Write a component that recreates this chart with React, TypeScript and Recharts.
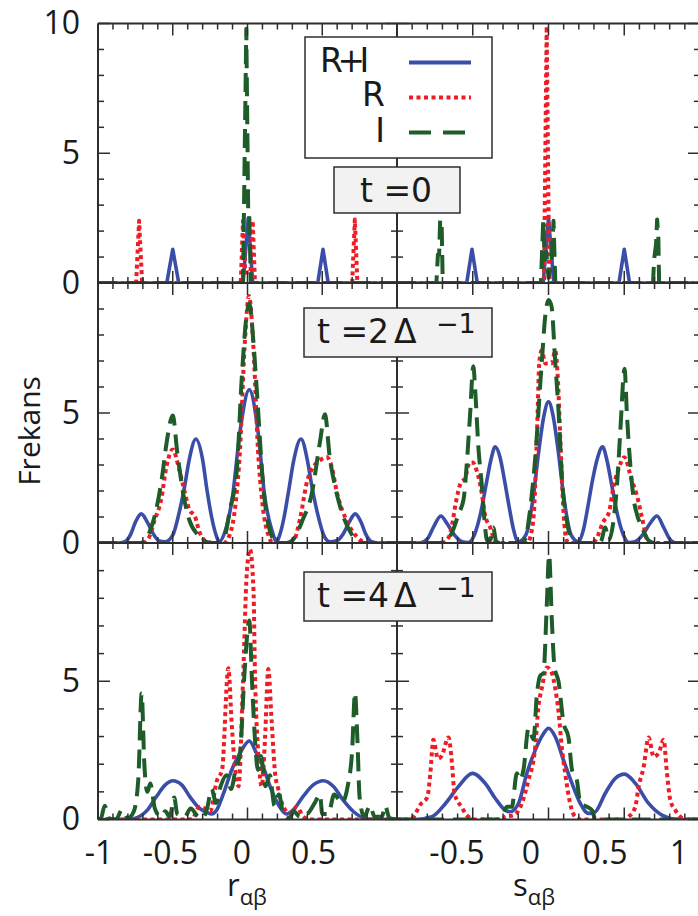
import React from 'react';
import { LineChart, Line, XAxis, YAxis } from 'recharts';

type Pt = [number, number];

// ---------- axis ticks & labels ----------
const X_TICKS = [-1, -0.9, -0.8, -0.7, -0.6, -0.5, -0.4, -0.3, -0.2, -0.1, 0, 0.1, 0.2, 0.3, 0.4, 0.5, 0.6, 0.7, 0.8, 0.9, 1];
const Y_TICKS = [0, 1, 2, 3, 4, 5, 6, 7, 8, 9, 10];
const X_LABELS_R = [-1, -0.5, 0, 0.5];
const X_LABELS_S = [-0.5, 0, 0.5, 1];
const Y_LABELS_TOP = [0, 5, 10];
const Y_LABELS = [0, 5];

// ---------- t = 0 ----------
const r0_RI: Pt[] = [[-1, 0], [-0.54, 0], [-0.5, 1.3], [-0.46, 0], [-0.03, 0], [0.005, 2.5], [0.035, 0], [0.47, 0], [0.505, 1.3], [0.54, 0], [1, 0]];
const r0_R: Pt[] = [[-1, 0], [-0.745, 0], [-0.725, 2.4], [-0.705, 0], [-0.045, 0], [-0.03, 2.4], [-0.015, 0.4], [0.02, 0.4], [0.035, 2.4], [0.05, 0], [0.7, 0], [0.718, 2.45], [0.735, 0], [1, 0]];
const r0_I: Pt[] = [[-1, 0], [-0.03, 0], [-0.008, 9.8], [0.005, 2.6], [0.012, 2.6], [0.022, 0], [1, 0]];

const s0_RI: Pt[] = [[-1, 0], [-0.54, 0], [-0.505, 1.3], [-0.47, 0], [-0.035, 0], [0, 2.5], [0.035, 0], [0.465, 0], [0.5, 1.3], [0.535, 0], [1, 0]];
const s0_R: Pt[] = [[-1, 0], [-0.03, 0], [-0.012, 9.9], [0.005, 0], [1, 0]];
const s0_I: Pt[] = [[-1, 0], [-0.74, 0], [-0.73, 1.1], [-0.722, 1.1], [-0.715, 2.45], [-0.705, 2.2], [-0.698, 0], [-0.05, 0], [-0.035, 2.4], [-0.025, 0.9], [-0.015, 1.2], [0, 0.2], [0.02, 0.8], [0.033, 2.4], [0.045, 0], [0.69, 0], [0.697, 0.9], [0.71, 1.5], [0.717, 2.45], [0.725, 1.8], [0.73, 0], [1, 0]];

// ---------- t = 2 / Delta ----------
const r2_RI: Pt[] = [[-1, 0], [-0.86, 0], [-0.82, 0.05], [-0.78, 0.35], [-0.75, 0.8], [-0.71, 1.12], [-0.67, 0.8], [-0.63, 0.35], [-0.59, 0.08], [-0.55, 0.05], [-0.5, 0.3], [-0.46, 1.1], [-0.42, 2.2], [-0.39, 3.2], [-0.345, 4.0], [-0.3, 3.2], [-0.27, 2.0], [-0.24, 1.0], [-0.21, 0.3], [-0.19, 0.05], [-0.15, 0.45], [-0.1, 1.8], [-0.05, 4.3], [0.012, 5.9], [0.07, 4.3], [0.115, 1.8], [0.165, 0.45], [0.195, 0.05], [0.215, 0.3], [0.245, 1.0], [0.275, 2.0], [0.31, 3.2], [0.358, 4.0], [0.4, 3.2], [0.43, 2.2], [0.47, 1.1], [0.51, 0.3], [0.55, 0.05], [0.6, 0.1], [0.64, 0.35], [0.68, 0.8], [0.72, 1.12], [0.76, 0.8], [0.79, 0.35], [0.83, 0.05], [0.87, 0], [1, 0]];
const r2_R: Pt[] = [[-1, 0], [-0.7, 0], [-0.66, 0.2], [-0.62, 0.9], [-0.58, 1.6], [-0.54, 3.0], [-0.5, 3.6], [-0.46, 2.9], [-0.43, 2.2], [-0.39, 1.3], [-0.35, 1.0], [-0.32, 0.4], [-0.27, 0.05], [-0.22, 0], [-0.16, 0], [-0.12, 0.3], [-0.08, 1.5], [-0.05, 3.6], [-0.02, 7.5], [0.01, 9.5], [0.04, 7.5], [0.07, 3.6], [0.1, 1.5], [0.14, 0.3], [0.17, 0], [0.26, 0], [0.31, 0.1], [0.35, 0.9], [0.4, 2.4], [0.45, 3.0], [0.49, 3.2], [0.53, 3.3], [0.56, 3.0], [0.6, 1.9], [0.66, 0.9], [0.73, 0.25], [0.8, 0], [1, 0]];
const r2_I: Pt[] = [[-1, 0], [-0.72, 0], [-0.69, 0.05], [-0.65, 0.5], [-0.61, 1.3], [-0.57, 2.6], [-0.54, 3.9], [-0.5, 4.9], [-0.47, 3.5], [-0.43, 1.9], [-0.39, 0.9], [-0.33, 0.3], [-0.28, 0.05], [-0.24, 0], [-0.19, 0], [-0.15, 0.3], [-0.12, 1.2], [-0.07, 2.9], [-0.04, 6.2], [-0.005, 8.8], [0.012, 9.2], [0.04, 7.7], [0.062, 5.9], [0.105, 2.2], [0.16, 0.3], [0.2, 0], [0.26, 0], [0.3, 0.1], [0.37, 0.9], [0.43, 1.9], [0.485, 3.9], [0.518, 4.95], [0.55, 3.3], [0.585, 2.2], [0.63, 1.2], [0.69, 0.4], [0.75, 0], [1, 0]];

const s2_RI: Pt[] = [[-1, 0], [-0.85, 0], [-0.8, 0.15], [-0.76, 0.6], [-0.71, 1.04], [-0.67, 0.75], [-0.62, 0.3], [-0.57, 0.05], [-0.53, 0.02], [-0.49, 0.3], [-0.45, 1.1], [-0.41, 2.3], [-0.38, 3.2], [-0.352, 3.7], [-0.32, 3.3], [-0.29, 2.4], [-0.26, 1.4], [-0.23, 0.5], [-0.2, 0.05], [-0.15, 0.3], [-0.1, 1.8], [-0.066, 3.45], [-0.03, 4.9], [0, 5.43], [0.03, 4.9], [0.066, 3.45], [0.1, 1.8], [0.15, 0.3], [0.198, 0.05], [0.23, 0.5], [0.26, 1.4], [0.29, 2.4], [0.325, 3.3], [0.357, 3.7], [0.385, 3.2], [0.415, 2.3], [0.455, 1.1], [0.495, 0.3], [0.53, 0.02], [0.57, 0.05], [0.62, 0.3], [0.67, 0.75], [0.716, 1.04], [0.76, 0.6], [0.8, 0.15], [0.84, 0], [1, 0]];
const s2_R: Pt[] = [[-1, 0], [-0.7, 0], [-0.66, 0.2], [-0.64, 0.6], [-0.61, 1.6], [-0.58, 2.3], [-0.55, 2.5], [-0.52, 3.1], [-0.5, 3.1], [-0.475, 2.8], [-0.44, 1.9], [-0.42, 1.1], [-0.385, 0.6], [-0.35, 0.05], [-0.3, 0], [-0.14, 0], [-0.11, 0.5], [-0.095, 1.3], [-0.077, 4.0], [-0.06, 7.0], [-0.045, 7.4], [-0.02, 6.9], [0.02, 6.9], [0.045, 7.4], [0.06, 6.5], [0.08, 3.7], [0.1, 1.1], [0.12, 0.1], [0.14, 0], [0.28, 0], [0.31, 0.1], [0.36, 0.8], [0.4, 1.2], [0.43, 2.2], [0.46, 2.8], [0.5, 3.3], [0.55, 2.4], [0.58, 1.9], [0.62, 0.9], [0.65, 0.15], [0.69, 0], [1, 0]];
const s2_I: Pt[] = [[-1, 0], [-0.72, 0], [-0.67, 0.1], [-0.63, 0.5], [-0.595, 1.1], [-0.56, 1.7], [-0.54, 3.0], [-0.518, 4.9], [-0.496, 6.8], [-0.484, 5.9], [-0.463, 3.7], [-0.44, 2.2], [-0.423, 0.9], [-0.405, 0.1], [-0.385, 0.1], [-0.365, 0.6], [-0.345, 0.05], [-0.32, 0], [-0.18, 0], [-0.15, 0.2], [-0.13, 0.9], [-0.09, 3.1], [-0.045, 6.9], [-0.02, 8.8], [0, 9.35], [0.02, 9.1], [0.045, 6.9], [0.065, 5.2], [0.09, 2.4], [0.12, 0.9], [0.155, 0.1], [0.18, 0], [0.32, 0], [0.345, 0.05], [0.375, 0.6], [0.397, 0.1], [0.43, 0.9], [0.452, 2.2], [0.474, 4.3], [0.502, 6.7], [0.518, 4.9], [0.54, 3.0], [0.562, 1.7], [0.584, 1.1], [0.617, 0.6], [0.66, 0.1], [0.7, 0], [1, 0]];

// ---------- t = 4 / Delta ----------
const r4_RI: Pt[] = [[-1, 0], [-0.8, 0], [-0.76, 0.03], [-0.67, 0.34], [-0.61, 0.82], [-0.55, 1.25], [-0.5, 1.4], [-0.44, 1.25], [-0.385, 0.82], [-0.32, 0.4], [-0.27, 0.25], [-0.24, 0.2], [-0.205, 0.35], [-0.16, 0.95], [-0.105, 1.8], [-0.05, 2.4], [0.012, 2.84], [0.06, 2.4], [0.105, 1.9], [0.16, 1.07], [0.215, 0.46], [0.26, 0.2], [0.305, 0.34], [0.37, 0.82], [0.44, 1.25], [0.507, 1.4], [0.575, 1.19], [0.64, 0.7], [0.71, 0.28], [0.8, 0.02], [1, 0]];
const r4_R: Pt[] = [[-1, 0], [-0.4, 0], [-0.36, 0.05], [-0.35, 0.22], [-0.32, 0.45], [-0.285, 0.4], [-0.25, 0.3], [-0.205, 1.4], [-0.17, 1.8], [-0.128, 5.47], [-0.106, 3.5], [-0.084, 1.9], [-0.06, 1.2], [-0.03, 5.0], [-0.005, 8.9], [0.017, 9.77], [0.04, 8.3], [0.05, 5.3], [0.072, 2.4], [0.095, 1.2], [0.117, 2.9], [0.139, 5.44], [0.162, 3.5], [0.184, 1.7], [0.206, 1.1], [0.24, 0.46], [0.285, 0.22], [0.33, 0.46], [0.373, 0.1], [0.42, 0], [1, 0]];
const r4_I: Pt[] = [[-1, 0], [-0.98, 0.05], [-0.955, 0.5], [-0.93, 0.05], [-0.88, 0], [-0.84, 0.35], [-0.8, 0.05], [-0.76, 0.3], [-0.73, 1.5], [-0.708, 4.56], [-0.69, 2.0], [-0.67, 1.0], [-0.65, 1.3], [-0.62, 0.4], [-0.58, 0.1], [-0.55, 0.3], [-0.52, 0.1], [-0.49, 0.8], [-0.47, 0.2], [-0.42, 0.1], [-0.38, 0.4], [-0.33, 0.1], [-0.3, 0.05], [-0.27, 0.4], [-0.24, 1.1], [-0.21, 0.6], [-0.18, 1.2], [-0.14, 1.6], [-0.11, 1.1], [-0.08, 1.8], [-0.05, 2.4], [-0.02, 5.3], [0.012, 7.2], [0.03, 5.0], [0.05, 2.9], [0.07, 1.8], [0.09, 2.3], [0.12, 1.2], [0.15, 1.6], [0.18, 0.5], [0.21, 0.9], [0.24, 0.2], [0.28, 0.05], [0.31, 0.3], [0.35, 0.1], [0.4, 0.2], [0.45, 0.6], [0.485, 0.9], [0.5, 0.2], [0.54, 0.2], [0.58, 0.9], [0.63, 0.6], [0.67, 1.2], [0.7, 2.5], [0.719, 4.58], [0.735, 2.9], [0.75, 0.8], [0.78, 0.1], [0.82, 0.5], [0.85, 0.1], [0.9, 0.1], [0.92, 0.5], [0.95, 0.05], [1, 0]];

const s4_RI: Pt[] = [[-1, 0], [-0.88, 0], [-0.77, 0.1], [-0.68, 0.58], [-0.595, 1.19], [-0.502, 1.67], [-0.418, 1.31], [-0.352, 0.77], [-0.286, 0.34], [-0.253, 0.28], [-0.198, 0.58], [-0.143, 1.67], [-0.088, 2.5], [-0.033, 3.1], [0, 3.3], [0.044, 3.0], [0.099, 2.15], [0.155, 1.31], [0.21, 0.58], [0.264, 0.22], [0.309, 0.28], [0.375, 0.95], [0.441, 1.49], [0.502, 1.64], [0.573, 1.31], [0.661, 0.58], [0.749, 0.16], [0.86, 0], [1, 0]];
const s4_R: Pt[] = [[-1, 0], [-0.93, 0], [-0.9, 0.05], [-0.84, 0.58], [-0.8, 0.8], [-0.78, 1.67], [-0.76, 2.88], [-0.73, 2.2], [-0.705, 2.3], [-0.66, 2.97], [-0.64, 2.2], [-0.62, 0.94], [-0.575, 0.46], [-0.53, 0.1], [-0.48, 0], [-0.3, 0], [-0.285, 0.1], [-0.23, 0.15], [-0.176, 0.58], [-0.132, 1.43], [-0.088, 2.6], [-0.066, 4.1], [-0.044, 4.75], [-0.011, 5.5], [0.022, 5.3], [0.044, 4.75], [0.066, 3.9], [0.088, 2.6], [0.11, 1.67], [0.143, 0.58], [0.176, 0.1], [0.22, 0], [0.5, 0], [0.53, 0.1], [0.573, 0.46], [0.595, 1.19], [0.628, 1.9], [0.661, 2.97], [0.694, 2.27], [0.727, 2.4], [0.76, 2.88], [0.782, 1.67], [0.804, 0.7], [0.837, 0.34], [0.87, 0.1], [0.9, 0], [1, 0]];
const s4_I: Pt[] = [[-1, 0], [-0.33, 0], [-0.308, 0.05], [-0.275, 0.46], [-0.242, 0.46], [-0.209, 1.67], [-0.187, 1.43], [-0.165, 1.8], [-0.132, 3.3], [-0.099, 2.9], [-0.077, 4.5], [-0.055, 5.2], [-0.033, 5.3], [-0.011, 7.8], [0.004, 9.57], [0.022, 7.2], [0.04, 5.5], [0.066, 5.0], [0.099, 3.5], [0.132, 2.97], [0.155, 1.8], [0.187, 1.43], [0.21, 0.58], [0.254, 0.46], [0.287, 0.34], [0.31, 0], [1, 0]];

// ---------- styles ----------
const SERIES = [
  { name: 'R+I', color: '#3a4ea8', dash: undefined as string | undefined, width: 3.6 },
  { name: 'R', color: '#ee1d25', dash: '4 3.5', width: 4 },
  { name: 'I', color: '#1e5c2a', dash: '19 9', width: 4 },
];
const FRAME = '#2e2e2e';
const TICK_FONT = '"Open Sans", "Noto Sans", sans-serif';
const BOX_FONT = '"DejaVu Sans", sans-serif';
const W = 702;
const H = 916;
const AX = 1; // axis band thickness (must be > 0 for recharts to draw the axis)

const shiftR = (v: number) => 1 - (v + 1) * 6.5;
const shiftS = (v: number) => -17.5 - 3.5 * v;

type Panel = {
  id: string; x0: number; x1: number; y0: number; y1: number;
  data: Pt[][]; curve: 'linear' | 'monotone';
  yLabels: number[]; xLabels: number[]; shift: (v: number) => number;
};

const PANELS: Panel[] = [
  { id: 'r0', x0: 98, x1: 397, y0: 23.5, y1: 283, data: [r0_RI, r0_R, r0_I], curve: 'linear', yLabels: Y_LABELS_TOP, xLabels: [], shift: shiftR },
  { id: 's0', x0: 397, x1: 700, y0: 23.5, y1: 283, data: [s0_RI, s0_R, s0_I], curve: 'linear', yLabels: [], xLabels: [], shift: shiftS },
  { id: 'r2', x0: 98, x1: 397, y0: 283, y1: 543, data: [r2_RI, r2_R, r2_I], curve: 'monotone', yLabels: Y_LABELS, xLabels: [], shift: shiftR },
  { id: 's2', x0: 397, x1: 700, y0: 283, y1: 543, data: [s2_RI, s2_R, s2_I], curve: 'monotone', yLabels: [], xLabels: [], shift: shiftS },
  { id: 'r4', x0: 98, x1: 397, y0: 543, y1: 819.5, data: [r4_RI, r4_R, r4_I], curve: 'monotone', yLabels: Y_LABELS, xLabels: X_LABELS_R, shift: shiftR },
  { id: 's4', x0: 397, x1: 700, y0: 543, y1: 819.5, data: [s4_RI, s4_R, s4_I], curve: 'monotone', yLabels: [], xLabels: X_LABELS_S, shift: shiftS },
];

const near = (a: number, b: number) => Math.abs(a - b) < 1e-6;
const isMajorX = (v: number) => near(v * 2, Math.round(v * 2));
const isMajorY = (v: number) => near(v / 5, Math.round(v / 5));

function tickRenderer(side: 'bottom' | 'top' | 'left' | 'right', labels: number[], shift: (v: number) => number) {
  return (props: any) => {
    const { x, y, payload } = props;
    const v = Number(payload.value);
    const major = side === 'bottom' || side === 'top' ? isMajorX(v) : isMajorY(v);
    const len = major ? 12 : 6;
    let x2 = x, y2 = y;
    if (side === 'bottom') y2 = y - len;
    if (side === 'top') y2 = y + len;
    if (side === 'left') x2 = x + len;
    if (side === 'right') x2 = x - len;
    const show = labels.some((l) => near(l, v));
    const txtStyle = { fontFamily: TICK_FONT, fontSize: 32, fill: '#1a1a1a' };
    return (
      <g>
        <line x1={x} y1={y} x2={x2} y2={y2} stroke={FRAME} strokeWidth={1.5} />
        {show && side === 'bottom' && (
          <text x={x + shift(v)} y={y + 44} textAnchor="middle" style={txtStyle}>{String(v)}</text>
        )}
        {show && side === 'left' && (
          <text x={x - 18} y={y + 10.5} textAnchor="end" style={txtStyle}>{String(v)}</text>
        )}
      </g>
    );
  };
}

function PanelChart({ p }: { p: Panel }) {
  const axisLine = { stroke: FRAME, strokeWidth: 2 };
  return (
    <LineChart width={W} height={H} margin={{ left: p.x0 - AX, right: W - p.x1 - AX, top: p.y0 - AX, bottom: H - p.y1 - AX }}>
      <XAxis xAxisId="b" type="number" dataKey="x" domain={[-1, 1]} ticks={X_TICKS} interval={0} orientation="bottom" height={AX}
        tickSize={0} tickMargin={0} tickLine={false} axisLine={axisLine} allowDataOverflow tick={tickRenderer('bottom', p.xLabels, p.shift)} />
      <XAxis xAxisId="t" type="number" dataKey="x" domain={[-1, 1]} ticks={X_TICKS} interval={0} orientation="top" height={AX}
        tickSize={0} tickMargin={0} tickLine={false} axisLine={axisLine} allowDataOverflow tick={tickRenderer('top', [], p.shift)} />
      <YAxis yAxisId="l" type="number" domain={[0, 10]} ticks={Y_TICKS} interval={0} orientation="left" width={AX}
        tickSize={0} tickMargin={0} tickLine={false} axisLine={axisLine} allowDataOverflow tick={tickRenderer('left', p.yLabels, p.shift)} />
      <YAxis yAxisId="r" type="number" domain={[0, 10]} ticks={Y_TICKS} interval={0} orientation="right" width={AX}
        tickSize={0} tickMargin={0} tickLine={false} axisLine={axisLine} allowDataOverflow tick={tickRenderer('right', [], p.shift)} />
      {p.data.map((arr, i) => (
        <Line
          key={SERIES[i].name}
          xAxisId="b"
          yAxisId="l"
          data={arr.map(([x, y]) => ({ x, y }))}
          dataKey="y"
          type={p.curve}
          stroke={SERIES[i].color}
          strokeWidth={SERIES[i].width}
          strokeDasharray={SERIES[i].dash}
          strokeLinejoin="round"
          dot={false}
          activeDot={false}
          isAnimationActive={false}
        />
      ))}
    </LineChart>
  );
}

function TimeBox({ x, y, w, h, main, coef, sup }: { x: number; y: number; w: number; h: number; main: string; coef?: string; sup?: boolean }) {
  return (
    <g>
      <rect x={x} y={y} width={w} height={h} fill="#f2f2f2" stroke={FRAME} strokeWidth={1.5} />
      {sup ? (
        <text y={y + 35} style={{ fontFamily: BOX_FONT, fontSize: 33, fill: '#1a1a1a' }}>
          <tspan x={x + 13}>{main}</tspan>
          <tspan x={x + 90}>Δ</tspan>
          <tspan x={x + 132} dy={-10} style={{ fontSize: 27 }}>−1</tspan>
        </text>
      ) : (
        <text x={x + w / 2 - 1} y={y + 35} textAnchor="middle" style={{ fontFamily: BOX_FONT, fontSize: 33, fill: '#1a1a1a' }}>{main}{coef}</text>
      )}
    </g>
  );
}

export default function App() {
  const legendRows = [62.5, 97.5, 132.5];
  return (
    <div style={{ position: 'absolute', left: 0, top: 0, width: 698, height: 916, overflow: 'hidden', background: '#fff' }}>
      {PANELS.map((p) => (
        <div key={p.id} style={{ position: 'absolute', left: 0, top: 0 }}>
          <PanelChart p={p} />
        </div>
      ))}
      <svg width={698} height={916} style={{ position: 'absolute', left: 0, top: 0 }}>
        {/* axis titles */}
        <text transform="translate(40,431) rotate(-90)" textAnchor="middle" style={{ fontFamily: TICK_FONT, fontSize: 30, fill: '#1a1a1a' }}>Frekans</text>
        <text x={227} y={896} style={{ fontFamily: TICK_FONT, fontSize: 31, fill: '#1a1a1a' }}>
          r<tspan dy={9} style={{ fontSize: 22 }}>αβ</tspan>
        </text>
        <text x={513} y={896} style={{ fontFamily: TICK_FONT, fontSize: 31, fill: '#1a1a1a' }}>
          s<tspan dy={9} style={{ fontSize: 22 }}>αβ</tspan>
        </text>

        {/* legend */}
        <rect x={305} y={37} width={187} height={121} fill="#fff" stroke={FRAME} strokeWidth={1.5} />
        <text x={320} y={72} style={{ fontFamily: BOX_FONT, fontSize: 33, fill: '#1a1a1a', letterSpacing: -5.5 }}>{SERIES[0].name}</text>
        <text x={385} y={106} textAnchor="end" style={{ fontFamily: BOX_FONT, fontSize: 33, fill: '#1a1a1a' }}>{SERIES[1].name}</text>
        <text x={385} y={142} textAnchor="end" style={{ fontFamily: BOX_FONT, fontSize: 33, fill: '#1a1a1a' }}>{SERIES[2].name}</text>
        {SERIES.map((s, i) => (
          <line key={s.name} x1={409} x2={471} y1={legendRows[i]} y2={legendRows[i]} stroke={s.color} strokeWidth={4}
            strokeDasharray={i === 1 ? '4 3.5' : i === 2 ? '22 12' : undefined} />
        ))}

        {/* time labels */}
        <TimeBox x={334} y={167} w={126} h={46} main="t =" coef="0" />
        <TimeBox x={304} y={308} w={188} h={49} main="t =2" sup />
        <TimeBox x={304} y={572} w={188} h={49} main="t =4" sup />
      </svg>
    </div>
  );
}
